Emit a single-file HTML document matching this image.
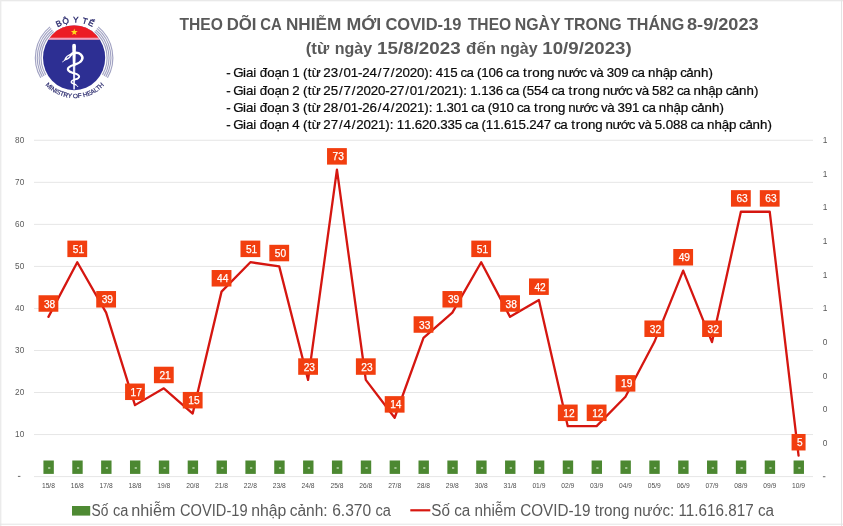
<!DOCTYPE html>
<html><head><meta charset="utf-8"><title>COVID-19</title>
<style>html,body{margin:0;padding:0;background:#fff;}svg{display:block;will-change:transform;filter:blur(0.35px);}text{font-family:"Liberation Sans",sans-serif;}</style></head>
<body>
<svg width="843" height="526" viewBox="0 0 843 526">
<rect x="0" y="0" width="843" height="526" fill="#ffffff"/>
<rect x="0" y="0" width="843" height="1.3" fill="#e9e9e9"/>
<rect x="0" y="0" width="1.4" height="526" fill="#ebebeb"/>
<rect x="841" y="0" width="1" height="526" fill="#e4e4e4"/>
<rect x="0" y="523.7" width="843" height="1" fill="#e4e4e4"/>
<line x1="34.0" y1="476.60" x2="813.0" y2="476.60" stroke="#e6e6e6" stroke-width="1"/>
<line x1="34.0" y1="434.56" x2="813.0" y2="434.56" stroke="#e6e6e6" stroke-width="1"/>
<line x1="34.0" y1="392.52" x2="813.0" y2="392.52" stroke="#e6e6e6" stroke-width="1"/>
<line x1="34.0" y1="350.48" x2="813.0" y2="350.48" stroke="#e6e6e6" stroke-width="1"/>
<line x1="34.0" y1="308.44" x2="813.0" y2="308.44" stroke="#e6e6e6" stroke-width="1"/>
<line x1="34.0" y1="266.40" x2="813.0" y2="266.40" stroke="#e6e6e6" stroke-width="1"/>
<line x1="34.0" y1="224.36" x2="813.0" y2="224.36" stroke="#e6e6e6" stroke-width="1"/>
<line x1="34.0" y1="182.32" x2="813.0" y2="182.32" stroke="#e6e6e6" stroke-width="1"/>
<line x1="34.0" y1="140.28" x2="813.0" y2="140.28" stroke="#e6e6e6" stroke-width="1"/>
<rect x="17.9" y="475.90" width="2.5" height="0.9" fill="#595959"/>
<text x="24.2" y="437.46" font-size="8.2" fill="#595959" text-anchor="end">10</text>
<text x="24.2" y="395.42" font-size="8.2" fill="#595959" text-anchor="end">20</text>
<text x="24.2" y="353.38" font-size="8.2" fill="#595959" text-anchor="end">30</text>
<text x="24.2" y="311.34" font-size="8.2" fill="#595959" text-anchor="end">40</text>
<text x="24.2" y="269.30" font-size="8.2" fill="#595959" text-anchor="end">50</text>
<text x="24.2" y="227.26" font-size="8.2" fill="#595959" text-anchor="end">60</text>
<text x="24.2" y="185.22" font-size="8.2" fill="#595959" text-anchor="end">70</text>
<text x="24.2" y="143.18" font-size="8.2" fill="#595959" text-anchor="end">80</text>
<rect x="822.9" y="476.30" width="2.5" height="0.9" fill="#595959"/>
<text x="825.2" y="445.77" font-size="8.4" fill="#595959" text-anchor="middle">0</text>
<text x="825.2" y="412.14" font-size="8.4" fill="#595959" text-anchor="middle">0</text>
<text x="825.2" y="378.50" font-size="8.4" fill="#595959" text-anchor="middle">0</text>
<text x="825.2" y="344.87" font-size="8.4" fill="#595959" text-anchor="middle">0</text>
<text x="825.2" y="311.24" font-size="8.4" fill="#595959" text-anchor="middle">1</text>
<text x="825.2" y="277.61" font-size="8.4" fill="#595959" text-anchor="middle">1</text>
<text x="825.2" y="243.98" font-size="8.4" fill="#595959" text-anchor="middle">1</text>
<text x="825.2" y="210.34" font-size="8.4" fill="#595959" text-anchor="middle">1</text>
<text x="825.2" y="176.71" font-size="8.4" fill="#595959" text-anchor="middle">1</text>
<text x="825.2" y="143.08" font-size="8.4" fill="#595959" text-anchor="middle">1</text>
<text x="48.43" y="488" font-size="6.7" fill="#4d4d4d" text-anchor="middle">15/8</text>
<text x="77.28" y="488" font-size="6.7" fill="#4d4d4d" text-anchor="middle">16/8</text>
<text x="106.13" y="488" font-size="6.7" fill="#4d4d4d" text-anchor="middle">17/8</text>
<text x="134.98" y="488" font-size="6.7" fill="#4d4d4d" text-anchor="middle">18/8</text>
<text x="163.83" y="488" font-size="6.7" fill="#4d4d4d" text-anchor="middle">19/8</text>
<text x="192.69" y="488" font-size="6.7" fill="#4d4d4d" text-anchor="middle">20/8</text>
<text x="221.54" y="488" font-size="6.7" fill="#4d4d4d" text-anchor="middle">21/8</text>
<text x="250.39" y="488" font-size="6.7" fill="#4d4d4d" text-anchor="middle">22/8</text>
<text x="279.24" y="488" font-size="6.7" fill="#4d4d4d" text-anchor="middle">23/8</text>
<text x="308.09" y="488" font-size="6.7" fill="#4d4d4d" text-anchor="middle">24/8</text>
<text x="336.94" y="488" font-size="6.7" fill="#4d4d4d" text-anchor="middle">25/8</text>
<text x="365.80" y="488" font-size="6.7" fill="#4d4d4d" text-anchor="middle">26/8</text>
<text x="394.65" y="488" font-size="6.7" fill="#4d4d4d" text-anchor="middle">27/8</text>
<text x="423.50" y="488" font-size="6.7" fill="#4d4d4d" text-anchor="middle">28/8</text>
<text x="452.35" y="488" font-size="6.7" fill="#4d4d4d" text-anchor="middle">29/8</text>
<text x="481.20" y="488" font-size="6.7" fill="#4d4d4d" text-anchor="middle">30/8</text>
<text x="510.06" y="488" font-size="6.7" fill="#4d4d4d" text-anchor="middle">31/8</text>
<text x="538.91" y="488" font-size="6.7" fill="#4d4d4d" text-anchor="middle">01/9</text>
<text x="567.76" y="488" font-size="6.7" fill="#4d4d4d" text-anchor="middle">02/9</text>
<text x="596.61" y="488" font-size="6.7" fill="#4d4d4d" text-anchor="middle">03/9</text>
<text x="625.46" y="488" font-size="6.7" fill="#4d4d4d" text-anchor="middle">04/9</text>
<text x="654.31" y="488" font-size="6.7" fill="#4d4d4d" text-anchor="middle">05/9</text>
<text x="683.17" y="488" font-size="6.7" fill="#4d4d4d" text-anchor="middle">06/9</text>
<text x="712.02" y="488" font-size="6.7" fill="#4d4d4d" text-anchor="middle">07/9</text>
<text x="740.87" y="488" font-size="6.7" fill="#4d4d4d" text-anchor="middle">08/9</text>
<text x="769.72" y="488" font-size="6.7" fill="#4d4d4d" text-anchor="middle">09/9</text>
<text x="798.57" y="488" font-size="6.7" fill="#4d4d4d" text-anchor="middle">10/9</text>
<rect x="43.43" y="460.5" width="10.4" height="13.4" fill="#4c8831"/>
<rect x="48.13" y="467.5" width="2.2" height="1.0" fill="#f4fff0"/>
<rect x="72.28" y="460.5" width="10.4" height="13.4" fill="#4c8831"/>
<rect x="76.98" y="467.5" width="2.2" height="1.0" fill="#f4fff0"/>
<rect x="101.13" y="460.5" width="10.4" height="13.4" fill="#4c8831"/>
<rect x="105.83" y="467.5" width="2.2" height="1.0" fill="#f4fff0"/>
<rect x="129.98" y="460.5" width="10.4" height="13.4" fill="#4c8831"/>
<rect x="134.68" y="467.5" width="2.2" height="1.0" fill="#f4fff0"/>
<rect x="158.83" y="460.5" width="10.4" height="13.4" fill="#4c8831"/>
<rect x="163.53" y="467.5" width="2.2" height="1.0" fill="#f4fff0"/>
<rect x="187.69" y="460.5" width="10.4" height="13.4" fill="#4c8831"/>
<rect x="192.39" y="467.5" width="2.2" height="1.0" fill="#f4fff0"/>
<rect x="216.54" y="460.5" width="10.4" height="13.4" fill="#4c8831"/>
<rect x="221.24" y="467.5" width="2.2" height="1.0" fill="#f4fff0"/>
<rect x="245.39" y="460.5" width="10.4" height="13.4" fill="#4c8831"/>
<rect x="250.09" y="467.5" width="2.2" height="1.0" fill="#f4fff0"/>
<rect x="274.24" y="460.5" width="10.4" height="13.4" fill="#4c8831"/>
<rect x="278.94" y="467.5" width="2.2" height="1.0" fill="#f4fff0"/>
<rect x="303.09" y="460.5" width="10.4" height="13.4" fill="#4c8831"/>
<rect x="307.79" y="467.5" width="2.2" height="1.0" fill="#f4fff0"/>
<rect x="331.94" y="460.5" width="10.4" height="13.4" fill="#4c8831"/>
<rect x="336.64" y="467.5" width="2.2" height="1.0" fill="#f4fff0"/>
<rect x="360.80" y="460.5" width="10.4" height="13.4" fill="#4c8831"/>
<rect x="365.50" y="467.5" width="2.2" height="1.0" fill="#f4fff0"/>
<rect x="389.65" y="460.5" width="10.4" height="13.4" fill="#4c8831"/>
<rect x="394.35" y="467.5" width="2.2" height="1.0" fill="#f4fff0"/>
<rect x="418.50" y="460.5" width="10.4" height="13.4" fill="#4c8831"/>
<rect x="423.20" y="467.5" width="2.2" height="1.0" fill="#f4fff0"/>
<rect x="447.35" y="460.5" width="10.4" height="13.4" fill="#4c8831"/>
<rect x="452.05" y="467.5" width="2.2" height="1.0" fill="#f4fff0"/>
<rect x="476.20" y="460.5" width="10.4" height="13.4" fill="#4c8831"/>
<rect x="480.90" y="467.5" width="2.2" height="1.0" fill="#f4fff0"/>
<rect x="505.06" y="460.5" width="10.4" height="13.4" fill="#4c8831"/>
<rect x="509.76" y="467.5" width="2.2" height="1.0" fill="#f4fff0"/>
<rect x="533.91" y="460.5" width="10.4" height="13.4" fill="#4c8831"/>
<rect x="538.61" y="467.5" width="2.2" height="1.0" fill="#f4fff0"/>
<rect x="562.76" y="460.5" width="10.4" height="13.4" fill="#4c8831"/>
<rect x="567.46" y="467.5" width="2.2" height="1.0" fill="#f4fff0"/>
<rect x="591.61" y="460.5" width="10.4" height="13.4" fill="#4c8831"/>
<rect x="596.31" y="467.5" width="2.2" height="1.0" fill="#f4fff0"/>
<rect x="620.46" y="460.5" width="10.4" height="13.4" fill="#4c8831"/>
<rect x="625.16" y="467.5" width="2.2" height="1.0" fill="#f4fff0"/>
<rect x="649.31" y="460.5" width="10.4" height="13.4" fill="#4c8831"/>
<rect x="654.01" y="467.5" width="2.2" height="1.0" fill="#f4fff0"/>
<rect x="678.17" y="460.5" width="10.4" height="13.4" fill="#4c8831"/>
<rect x="682.87" y="467.5" width="2.2" height="1.0" fill="#f4fff0"/>
<rect x="707.02" y="460.5" width="10.4" height="13.4" fill="#4c8831"/>
<rect x="711.72" y="467.5" width="2.2" height="1.0" fill="#f4fff0"/>
<rect x="735.87" y="460.5" width="10.4" height="13.4" fill="#4c8831"/>
<rect x="740.57" y="467.5" width="2.2" height="1.0" fill="#f4fff0"/>
<rect x="764.72" y="460.5" width="10.4" height="13.4" fill="#4c8831"/>
<rect x="769.42" y="467.5" width="2.2" height="1.0" fill="#f4fff0"/>
<rect x="793.57" y="460.5" width="10.4" height="13.4" fill="#4c8831"/>
<rect x="798.27" y="467.5" width="2.2" height="1.0" fill="#f4fff0"/>
<polyline points="48.43,316.85 77.28,262.20 106.13,312.64 134.98,405.13 163.83,388.32 192.69,413.54 221.54,291.62 250.39,262.20 279.24,266.40 308.09,379.91 336.94,169.71 365.80,379.91 394.65,417.74 423.50,337.87 452.35,312.64 481.20,262.20 510.06,316.85 538.91,300.03 567.76,426.15 596.61,426.15 625.46,396.72 654.31,342.07 683.17,270.60 712.02,342.07 740.87,211.75 769.72,211.75 798.57,455.58" fill="none" stroke="#d51610" stroke-width="2.3" stroke-linejoin="round" stroke-linecap="round"/>
<rect x="38.53" y="295.25" width="19.8" height="16.5" fill="#f23e0f"/>
<text x="43.98" y="307.55" font-size="10.4" fill="#ffffff" stroke="#ffffff" stroke-width="0.25" textLength="11.3" lengthAdjust="spacingAndGlyphs">38</text>
<rect x="67.38" y="240.60" width="19.8" height="16.5" fill="#f23e0f"/>
<text x="72.83" y="252.90" font-size="10.4" fill="#ffffff" stroke="#ffffff" stroke-width="0.25" textLength="11.3" lengthAdjust="spacingAndGlyphs">51</text>
<rect x="96.23" y="291.04" width="19.8" height="16.5" fill="#f23e0f"/>
<text x="101.68" y="303.34" font-size="10.4" fill="#ffffff" stroke="#ffffff" stroke-width="0.25" textLength="11.3" lengthAdjust="spacingAndGlyphs">39</text>
<rect x="125.08" y="383.53" width="19.8" height="16.5" fill="#f23e0f"/>
<text x="130.53" y="395.83" font-size="10.4" fill="#ffffff" stroke="#ffffff" stroke-width="0.25" textLength="11.3" lengthAdjust="spacingAndGlyphs">17</text>
<rect x="153.93" y="366.72" width="19.8" height="16.5" fill="#f23e0f"/>
<text x="159.38" y="379.02" font-size="10.4" fill="#ffffff" stroke="#ffffff" stroke-width="0.25" textLength="11.3" lengthAdjust="spacingAndGlyphs">21</text>
<rect x="182.79" y="391.94" width="19.8" height="16.5" fill="#f23e0f"/>
<text x="188.24" y="404.24" font-size="10.4" fill="#ffffff" stroke="#ffffff" stroke-width="0.25" textLength="11.3" lengthAdjust="spacingAndGlyphs">15</text>
<rect x="211.64" y="270.02" width="19.8" height="16.5" fill="#f23e0f"/>
<text x="217.09" y="282.32" font-size="10.4" fill="#ffffff" stroke="#ffffff" stroke-width="0.25" textLength="11.3" lengthAdjust="spacingAndGlyphs">44</text>
<rect x="240.49" y="240.60" width="19.8" height="16.5" fill="#f23e0f"/>
<text x="245.94" y="252.90" font-size="10.4" fill="#ffffff" stroke="#ffffff" stroke-width="0.25" textLength="11.3" lengthAdjust="spacingAndGlyphs">51</text>
<rect x="269.34" y="244.80" width="19.8" height="16.5" fill="#f23e0f"/>
<text x="274.79" y="257.10" font-size="10.4" fill="#ffffff" stroke="#ffffff" stroke-width="0.25" textLength="11.3" lengthAdjust="spacingAndGlyphs">50</text>
<rect x="298.19" y="358.31" width="19.8" height="16.5" fill="#f23e0f"/>
<text x="303.64" y="370.61" font-size="10.4" fill="#ffffff" stroke="#ffffff" stroke-width="0.25" textLength="11.3" lengthAdjust="spacingAndGlyphs">23</text>
<rect x="327.04" y="148.11" width="19.8" height="16.5" fill="#f23e0f"/>
<text x="332.49" y="160.41" font-size="10.4" fill="#ffffff" stroke="#ffffff" stroke-width="0.25" textLength="11.3" lengthAdjust="spacingAndGlyphs">73</text>
<rect x="355.90" y="358.31" width="19.8" height="16.5" fill="#f23e0f"/>
<text x="361.35" y="370.61" font-size="10.4" fill="#ffffff" stroke="#ffffff" stroke-width="0.25" textLength="11.3" lengthAdjust="spacingAndGlyphs">23</text>
<rect x="384.75" y="396.14" width="19.8" height="16.5" fill="#f23e0f"/>
<text x="390.20" y="408.44" font-size="10.4" fill="#ffffff" stroke="#ffffff" stroke-width="0.25" textLength="11.3" lengthAdjust="spacingAndGlyphs">14</text>
<rect x="413.60" y="316.27" width="19.8" height="16.5" fill="#f23e0f"/>
<text x="419.05" y="328.57" font-size="10.4" fill="#ffffff" stroke="#ffffff" stroke-width="0.25" textLength="11.3" lengthAdjust="spacingAndGlyphs">33</text>
<rect x="442.45" y="291.04" width="19.8" height="16.5" fill="#f23e0f"/>
<text x="447.90" y="303.34" font-size="10.4" fill="#ffffff" stroke="#ffffff" stroke-width="0.25" textLength="11.3" lengthAdjust="spacingAndGlyphs">39</text>
<rect x="471.30" y="240.60" width="19.8" height="16.5" fill="#f23e0f"/>
<text x="476.75" y="252.90" font-size="10.4" fill="#ffffff" stroke="#ffffff" stroke-width="0.25" textLength="11.3" lengthAdjust="spacingAndGlyphs">51</text>
<rect x="500.16" y="295.25" width="19.8" height="16.5" fill="#f23e0f"/>
<text x="505.61" y="307.55" font-size="10.4" fill="#ffffff" stroke="#ffffff" stroke-width="0.25" textLength="11.3" lengthAdjust="spacingAndGlyphs">38</text>
<rect x="529.01" y="278.43" width="19.8" height="16.5" fill="#f23e0f"/>
<text x="534.46" y="290.73" font-size="10.4" fill="#ffffff" stroke="#ffffff" stroke-width="0.25" textLength="11.3" lengthAdjust="spacingAndGlyphs">42</text>
<rect x="557.86" y="404.55" width="19.8" height="16.5" fill="#f23e0f"/>
<text x="563.31" y="416.85" font-size="10.4" fill="#ffffff" stroke="#ffffff" stroke-width="0.25" textLength="11.3" lengthAdjust="spacingAndGlyphs">12</text>
<rect x="586.71" y="404.55" width="19.8" height="16.5" fill="#f23e0f"/>
<text x="592.16" y="416.85" font-size="10.4" fill="#ffffff" stroke="#ffffff" stroke-width="0.25" textLength="11.3" lengthAdjust="spacingAndGlyphs">12</text>
<rect x="615.56" y="375.12" width="19.8" height="16.5" fill="#f23e0f"/>
<text x="621.01" y="387.42" font-size="10.4" fill="#ffffff" stroke="#ffffff" stroke-width="0.25" textLength="11.3" lengthAdjust="spacingAndGlyphs">19</text>
<rect x="644.41" y="320.47" width="19.8" height="16.5" fill="#f23e0f"/>
<text x="649.86" y="332.77" font-size="10.4" fill="#ffffff" stroke="#ffffff" stroke-width="0.25" textLength="11.3" lengthAdjust="spacingAndGlyphs">32</text>
<rect x="673.27" y="249.00" width="19.8" height="16.5" fill="#f23e0f"/>
<text x="678.72" y="261.30" font-size="10.4" fill="#ffffff" stroke="#ffffff" stroke-width="0.25" textLength="11.3" lengthAdjust="spacingAndGlyphs">49</text>
<rect x="702.12" y="320.47" width="19.8" height="16.5" fill="#f23e0f"/>
<text x="707.57" y="332.77" font-size="10.4" fill="#ffffff" stroke="#ffffff" stroke-width="0.25" textLength="11.3" lengthAdjust="spacingAndGlyphs">32</text>
<rect x="730.97" y="190.15" width="19.8" height="16.5" fill="#f23e0f"/>
<text x="736.42" y="202.45" font-size="10.4" fill="#ffffff" stroke="#ffffff" stroke-width="0.25" textLength="11.3" lengthAdjust="spacingAndGlyphs">63</text>
<rect x="759.82" y="190.15" width="19.8" height="16.5" fill="#f23e0f"/>
<text x="765.27" y="202.45" font-size="10.4" fill="#ffffff" stroke="#ffffff" stroke-width="0.25" textLength="11.3" lengthAdjust="spacingAndGlyphs">63</text>
<rect x="791.57" y="433.98" width="14.0" height="16.5" fill="#f23e0f"/>
<text x="796.97" y="446.28" font-size="10.4" fill="#ffffff" stroke="#ffffff" stroke-width="0.25" textLength="5.6" lengthAdjust="spacingAndGlyphs">5</text>
<text x="179.42" y="30" font-size="17" fill="#595959" font-weight="bold" textLength="43.40" lengthAdjust="spacingAndGlyphs">THEO</text>
<text x="226.68" y="30" font-size="17" fill="#595959" font-weight="bold" textLength="29.81" lengthAdjust="spacingAndGlyphs">DÕI</text>
<text x="260.29" y="30" font-size="17" fill="#595959" font-weight="bold" textLength="21.50" lengthAdjust="spacingAndGlyphs">CA</text>
<text x="285.95" y="30" font-size="17" fill="#595959" font-weight="bold" textLength="55.31" lengthAdjust="spacingAndGlyphs">NHIỄM</text>
<text x="346.41" y="30" font-size="17" fill="#595959" font-weight="bold" textLength="34.85" lengthAdjust="spacingAndGlyphs">MỚI</text>
<text x="385.42" y="30" font-size="17" fill="#595959" font-weight="bold" textLength="76.03" lengthAdjust="spacingAndGlyphs">COVID-19</text>
<text x="467.82" y="30" font-size="17" fill="#595959" font-weight="bold" textLength="43.40" lengthAdjust="spacingAndGlyphs">THEO</text>
<text x="514.74" y="30" font-size="17" fill="#595959" font-weight="bold" textLength="45.89" lengthAdjust="spacingAndGlyphs">NGÀY</text>
<text x="564.32" y="30" font-size="17" fill="#595959" font-weight="bold" textLength="57.43" lengthAdjust="spacingAndGlyphs">TRONG</text>
<text x="626.92" y="30" font-size="17" fill="#595959" font-weight="bold" textLength="57.38" lengthAdjust="spacingAndGlyphs">THÁNG</text>
<text x="687.02" y="30" font-size="17" fill="#595959" font-weight="bold" textLength="71.57" lengthAdjust="spacingAndGlyphs">8-9/2023</text>
<text x="305.66" y="54" font-size="17" fill="#595959" font-weight="bold" textLength="23.49" lengthAdjust="spacingAndGlyphs">(từ</text>
<text x="334.64" y="54" font-size="17" fill="#595959" font-weight="bold" textLength="37.49" lengthAdjust="spacingAndGlyphs">ngày</text>
<text x="377.12" y="54" font-size="17" fill="#595959" font-weight="bold" textLength="83.52" lengthAdjust="spacingAndGlyphs">15/8/2023</text>
<text x="466.11" y="54" font-size="17" fill="#595959" font-weight="bold" textLength="30.07" lengthAdjust="spacingAndGlyphs">đến</text>
<text x="500.24" y="54" font-size="17" fill="#595959" font-weight="bold" textLength="37.49" lengthAdjust="spacingAndGlyphs">ngày</text>
<text x="542.32" y="54" font-size="17" fill="#595959" font-weight="bold" textLength="89.42" lengthAdjust="spacingAndGlyphs">10/9/2023)</text>
<text x="226.18 233.17 243.03 245.89 253.19 259.70 267.32 274.54 281.73 292.37 302.89 307.83 311.69 323.37 330.63 338.88 343.43 350.69 358.00 362.35 369.61 377.86 382.41 390.66 395.20 402.47 409.73 416.99 424.28 428.74 435.67 442.94 450.20 460.47 466.56 476.89 481.21 488.47 495.74 506.01 512.10 523.02 527.55 532.35 539.89 547.03 557.40 564.47 572.54 580.52 590.03 596.32 606.63 613.89 621.15 631.43 637.52 647.95 655.48 662.68 669.87 680.28 686.37 693.57 701.09 708.52" y="77" font-size="13.3" fill="#0a0a0a" stroke="#0a0a0a" stroke-width="0.22">-Giaiđoạn1(từ23/01-24/7/2020):415ca(106catrongnướcvà309canhậpcảnh)</text>
<text x="226.18 233.17 243.03 245.89 253.19 259.70 267.32 274.54 281.73 292.37 302.89 307.83 311.69 323.37 330.63 338.88 343.43 351.68 356.23 363.49 370.76 378.02 385.33 389.67 396.93 405.18 409.73 416.99 425.24 429.79 437.05 444.32 451.58 458.87 463.32 470.26 477.55 481.14 488.40 495.67 505.94 512.03 522.36 526.68 533.94 541.20 551.48 557.57 568.49 573.02 577.81 585.36 592.49 602.87 609.94 618.01 625.99 635.50 641.79 652.09 659.36 666.62 676.89 682.98 693.42 700.95 708.14 715.34 725.75 731.84 739.03 746.56 753.98" y="94.5" font-size="13.3" fill="#0a0a0a" stroke="#0a0a0a" stroke-width="0.22">-Giaiđoạn2(từ25/7/2020-27/01/2021):1.136ca(554catrongnướcvà582canhậpcảnh)</text>
<text x="226.18 233.17 243.03 245.89 253.19 259.70 267.32 274.54 281.73 292.37 302.89 307.83 311.69 323.37 330.63 338.88 343.43 350.69 358.00 362.35 369.61 377.86 382.41 390.66 395.20 402.47 409.73 416.99 424.28 428.74 435.67 442.97 446.55 453.82 461.08 471.35 477.44 487.77 492.09 499.35 506.62 516.89 522.98 533.90 538.43 543.23 550.77 557.91 568.28 575.35 583.42 591.40 600.91 607.20 617.51 624.77 632.03 642.31 648.40 658.83 666.36 673.56 680.75 691.16 697.25 704.45 711.97 719.40" y="112" font-size="13.3" fill="#0a0a0a" stroke="#0a0a0a" stroke-width="0.22">-Giaiđoạn3(từ28/01-26/4/2021):1.301ca(910catrongnướcvà391canhậpcảnh)</text>
<text x="226.18 233.17 243.03 245.89 253.19 259.70 267.32 274.54 281.73 292.37 302.89 307.83 311.69 323.37 330.63 338.88 343.43 351.68 356.23 363.49 370.76 378.02 385.31 389.76 396.70 403.96 411.25 414.84 422.11 429.37 436.66 440.25 447.51 454.78 465.05 471.14 481.47 485.79 493.05 500.34 503.93 511.19 518.46 525.75 529.34 536.60 543.86 554.14 560.23 571.15 575.68 580.47 588.01 595.15 605.53 612.60 620.67 628.65 638.15 644.45 654.75 662.04 665.63 672.90 680.16 690.43 696.52 706.96 714.49 721.68 728.88 739.29 745.38 752.57 760.10 767.52" y="129" font-size="13.3" fill="#0a0a0a" stroke="#0a0a0a" stroke-width="0.22">-Giaiđoạn4(từ27/4/2021):11.620.335ca(11.615.247catrongnướcvà5.088canhậpcảnh)</text>
<rect x="72" y="506" width="18.2" height="9.6" fill="#4e8a33"/>
<text x="91.57" y="515.9" font-size="15.6" fill="#595959" textLength="16.87" lengthAdjust="spacingAndGlyphs">Số</text>
<text x="112.88" y="515.9" font-size="15.6" fill="#595959" textLength="15.42" lengthAdjust="spacingAndGlyphs">ca</text>
<text x="131.33" y="515.9" font-size="15.6" fill="#595959" textLength="44.06" lengthAdjust="spacingAndGlyphs">nhiễm</text>
<text x="180.06" y="515.9" font-size="15.6" fill="#595959" textLength="67.54" lengthAdjust="spacingAndGlyphs">COVID-19</text>
<text x="251.25" y="515.9" font-size="15.6" fill="#595959" textLength="35.14" lengthAdjust="spacingAndGlyphs">nhập</text>
<text x="289.64" y="515.9" font-size="15.6" fill="#595959" textLength="37.97" lengthAdjust="spacingAndGlyphs">cảnh:</text>
<text x="332.21" y="515.9" font-size="15.6" fill="#595959" textLength="38.98" lengthAdjust="spacingAndGlyphs">6.370</text>
<text x="375.48" y="515.9" font-size="15.6" fill="#595959" textLength="15.42" lengthAdjust="spacingAndGlyphs">ca</text>
<rect x="410.3" y="509.2" width="20" height="2.2" fill="#d81710"/>
<text x="431.3" y="515.8" font-size="16" fill="#595959" textLength="342.7" lengthAdjust="spacingAndGlyphs">Số ca nhiễm COVID-19 trong nước: 11.616.817 ca</text>
<g id="logo">
<defs><clipPath id="dc"><ellipse cx="74.10" cy="57.80" rx="31.10" ry="32.40"/></clipPath>
<path id="tp" d="M 40.00 57.80 A 35.30 35.30 0 0 1 110.60 57.80"/>
<path id="bp" d="M 34.50 57.80 A 40.30 40.30 0 0 0 115.10 57.80"/>
</defs>
<path d="M 53.56 31.46 A 33.00 33.66 0 0 0 45.67 74.88" fill="none" stroke="#a2a3c3" stroke-width="1.15"/>
<path d="M 94.64 31.46 A 33.00 33.66 0 0 1 102.53 74.88" fill="none" stroke="#a2a3c3" stroke-width="1.15"/>
<path d="M 52.37 29.94 A 34.90 35.60 0 0 0 44.03 75.87" fill="none" stroke="#a2a3c3" stroke-width="1.15"/>
<path d="M 95.83 29.94 A 34.90 35.60 0 0 1 104.17 75.87" fill="none" stroke="#a2a3c3" stroke-width="1.15"/>
<path d="M 51.19 28.42 A 36.80 37.54 0 0 0 42.39 76.85" fill="none" stroke="#a2a3c3" stroke-width="1.15"/>
<path d="M 97.01 28.42 A 36.80 37.54 0 0 1 105.81 76.85" fill="none" stroke="#a2a3c3" stroke-width="1.15"/>
<path d="M 50.01 26.91 A 38.70 39.47 0 0 0 40.75 77.83" fill="none" stroke="#a2a3c3" stroke-width="1.15"/>
<path d="M 98.19 26.91 A 38.70 39.47 0 0 1 107.45 77.83" fill="none" stroke="#a2a3c3" stroke-width="1.15"/>
<g clip-path="url(#dc)">
<rect x="40" y="20" width="70" height="80" fill="#2d2f93"/>
<rect x="40" y="20" width="70" height="19.8" fill="#f5a0b8"/>
<rect x="40" y="20" width="70" height="17.7" fill="#ec1c24"/>
</g>
<polygon points="74.30,28.60 75.15,31.03 77.72,31.09 75.68,32.65 76.42,35.11 74.30,33.65 72.18,35.11 72.92,32.65 70.88,31.09 73.45,31.03" fill="#ffd91a"/>
<path d="M 72.2 46 Q 72.1 43.8 74.1 43.8 Q 76.1 43.8 76.0 46 L 75.3 66 L 72.9 66 Z" fill="#ffffff"/>
<path d="M 72.9 66 L 75.3 66 L 74.9 89.4 L 73.3 89.4 Z" fill="#e4e5f7"/>
<path d="M 70.6 54.9 C 72.6 52.2, 78.2 52.0, 80.9 54.6 C 84.2 57.8, 82.3 62.4, 74.3 64.8" fill="none" stroke="#ffffff" stroke-width="2.5" stroke-linecap="round"/>
<path d="M 74.3 64.8 C 69.5 66.2, 66.9 68.2, 68.3 70.4 C 69.4 72.1, 71.8 72.6, 73.8 73.2" fill="none" stroke="#ffffff" stroke-width="2.2" stroke-linecap="round"/>
<path d="M 73.8 73.2 C 78.6 74.4, 80.3 76.2, 78.4 77.9 C 77.2 78.9, 75.6 79.2, 74.3 79.6" fill="none" stroke="#ffffff" stroke-width="1.9" stroke-linecap="round"/>
<path d="M 74.3 79.6 C 72.0 80.3, 70.6 81.5, 71.6 82.8 C 72.4 83.8, 74.2 84.0, 75.6 84.6" fill="none" stroke="#ffffff" stroke-width="1.5" stroke-linecap="round"/>
<path d="M 75.6 84.6 C 76.6 85.1, 77.3 85.8, 77.8 86.6" fill="none" stroke="#ffffff" stroke-width="1.0" stroke-linecap="round"/>
<path d="M 64.2 60.6 C 64.6 57.2, 67.6 54.2, 71.9 53.8 C 71.6 57.4, 68.6 60.0, 64.2 60.6 Z" fill="#ffffff"/>
<path d="M 66.4 58.4 C 67.0 57.0, 68.2 55.9, 69.8 55.5 C 69.4 56.9, 68.0 58.0, 66.4 58.4 Z" fill="#3a3c9c"/>
<path d="M 62.6 61.8 L 64.8 60.2" stroke="#ffffff" stroke-width="0.9" stroke-linecap="round"/>
<text font-size="8.2" fill="#2a2a6e" stroke="#2a2a6e" stroke-width="0.35" letter-spacing="0.75" style="opacity:0.99"><textPath href="#tp" startOffset="50%" text-anchor="middle">BỘ Y TẾ</textPath></text>
<text font-size="6.4" fill="#2a2a6e" stroke="#2a2a6e" stroke-width="0.2" letter-spacing="-0.08" style="opacity:0.99"><textPath href="#bp" startOffset="50%" text-anchor="middle">MINISTRY OF HEALTH</textPath></text>
</g>
</svg>
</body></html>
